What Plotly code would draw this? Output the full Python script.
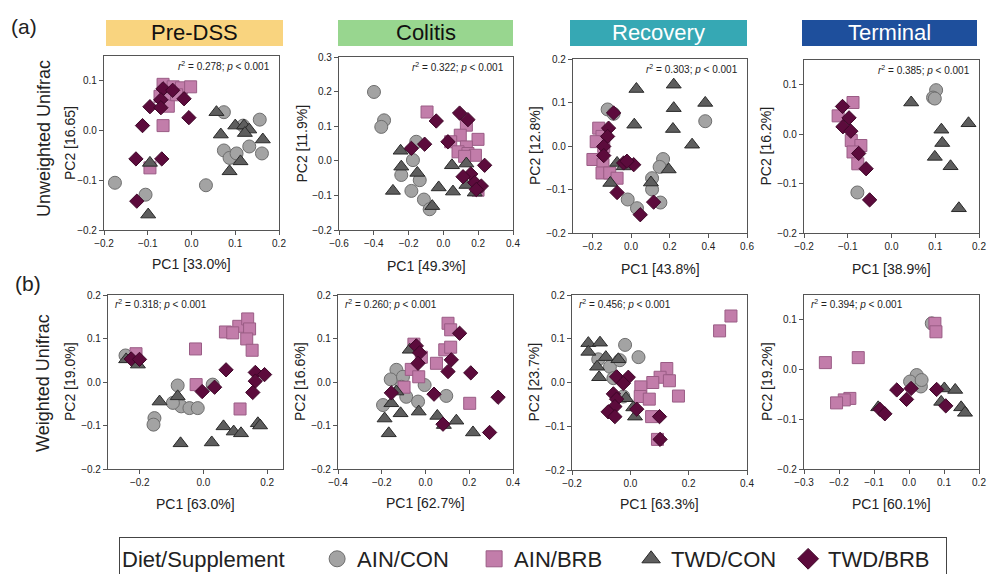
import plotly.graph_objects as go

W, H = 995, 574

# ---------------- data (PC1, PC2) per panel and group ----------------
# Row (a): Unweighted Unifrac
UW_PRE_AINCON = [(-0.175, -0.105), (-0.105, -0.129), (0.033, -0.11), (0.074, 0.037), (0.156, 0.022),
                 (0.074, -0.04), (0.087, -0.055), (0.103, -0.046), (0.132, -0.032), (0.161, -0.046), (0.118, 0.01)]
UW_PRE_AINBRB = [(-0.065, 0.093), (-0.042, 0.088), (-0.023, 0.086), (-0.002, 0.088), (-0.072, 0.069),
                 (-0.057, 0.062), (-0.053, 0.049), (-0.065, 0.01), (-0.095, -0.075), (-0.034, 0.072)]
UW_PRE_TWDCON = [(-0.095, -0.065), (-0.099, -0.169), (0.057, 0.037), (0.067, -0.008), (0.1, 0.01),
                 (0.12, 0.01), (0.132, 0.002), (0.122, -0.005), (0.163, -0.018), (0.112, -0.062), (0.087, -0.082)]
UW_PRE_TWDBRB = [(-0.065, 0.084), (-0.043, 0.081), (-0.07, 0.062), (-0.095, 0.048), (-0.07, 0.046),
                 (-0.017, 0.064), (-0.006, 0.026), (-0.112, 0.01), (-0.127, -0.057), (-0.068, -0.057), (-0.125, -0.142)]

UW_COL_AINCON = [(-0.399, 0.199), (-0.341, 0.117), (-0.357, 0.098), (-0.156, 0.055), (-0.175, 0.002),
                 (-0.242, -0.041), (-0.136, -0.056), (-0.184, -0.087), (-0.112, -0.112), (-0.079, -0.14)]
UW_COL_AINBRB = [(-0.094, 0.141), (0.132, 0.103), (0.097, 0.074), (0.042, 0.055), (0.199, 0.062),
                 (0.132, 0.04), (0.084, 0.026), (0.141, 0.021), (0.184, 0.016), (0.122, 0.013), (0.199, -0.085)]
UW_COL_TWDCON = [(-0.246, 0.029), (-0.242, -0.017), (-0.15, -0.035), (-0.29, -0.087), (-0.027, -0.077),
                 (0.055, -0.089), (-0.064, -0.131), (0.049, -0.013), (0.132, -0.008), (0.132, -0.07), (0.18, -0.092)]
UW_COL_TWDBRB = [(0.093, 0.138), (0.141, 0.119), (-0.041, 0.115), (-0.184, 0.036), (-0.108, 0.048),
                 (0.026, 0.055), (0.237, -0.013), (0.157, -0.038), (0.113, -0.046), (0.18, -0.063),
                 (0.218, -0.073), (0.189, -0.083)]

UW_REC_AINCON = [(-0.121, 0.084), (-0.09, 0.074), (0.384, 0.057), (0.166, -0.03), (0.148, -0.048),
                 (0.109, -0.074), (0.109, -0.1), (0.152, -0.13), (-0.017, -0.123), (0.031, -0.143)]
UW_REC_AINBRB = [(-0.167, 0.041), (-0.15, 0.022), (-0.141, -0.001), (-0.197, -0.031), (-0.145, -0.043),
                 (-0.15, -0.062), (-0.11, -0.062), (-0.072, -0.074), (-0.18, 0.01)]
UW_REC_TWDCON = [(0.028, 0.131), (0.221, 0.141), (0.384, 0.099), (0.221, 0.087), (0.017, 0.049),
                 (0.217, 0.039), (0.316, 0.003), (0.195, -0.054), (0.103, -0.084), (-0.072, -0.039),
                 (-0.038, -0.047), (-0.107, -0.085)]
UW_REC_TWDBRB = [(-0.09, 0.076), (-0.116, 0.041), (-0.121, 0.022), (-0.141, -0.001), (-0.141, -0.022),
                 (-0.038, -0.039), (0.014, -0.043), (-0.072, -0.107), (0.117, -0.129), (0.048, -0.158),
                 (-0.021, -0.035)]

UW_TER_AINCON = [(0.102, 0.089), (0.095, 0.074), (0.099, 0.072), (-0.078, -0.118)]
UW_TER_AINBRB = [(-0.088, 0.064), (-0.122, 0.037), (-0.092, -0.013), (-0.07, -0.023), (-0.088, -0.036),
                 (-0.077, -0.06)]
UW_TER_TWDCON = [(0.045, 0.064), (0.176, 0.022), (0.114, 0.009), (0.116, -0.018), (0.099, -0.046),
                 (0.135, -0.065), (0.154, -0.15)]
UW_TER_TWDBRB = [(-0.112, 0.056), (-0.097, 0.033), (-0.111, 0.015), (-0.093, 0.006), (-0.075, -0.039),
                 (-0.058, -0.07), (-0.05, -0.133)]

# Row (b): Weighted Unifrac
W_PRE_AINCON = [(-0.245, 0.061), (-0.154, -0.083), (-0.157, -0.098), (-0.081, -0.008), (-0.07, -0.056),
                (-0.044, -0.06), (-0.018, -0.06), (-0.096, -0.048), (0.029, -0.006)]
W_PRE_AINBRB = [(-0.212, 0.065), (-0.025, 0.076), (0.069, 0.115), (0.111, 0.128), (0.139, 0.145),
                (0.145, 0.122), (0.136, 0.099), (0.153, 0.073), (-0.023, -0.006), (0.115, -0.062), (0.092, 0.113)]
W_PRE_TWDCON = [(-0.243, 0.052), (-0.206, 0.04), (-0.138, -0.045), (-0.081, -0.033), (-0.072, -0.141),
                (0.026, -0.139), (0.063, -0.102), (0.095, -0.114), (0.118, -0.118), (0.171, -0.095), (0.178, -0.1)]
W_PRE_TWDBRB = [(-0.227, 0.053), (-0.201, 0.052), (0.071, 0.028), (0.163, 0.022), (0.192, 0.017),
                (0.163, 0.002), (0.155, -0.024), (-0.004, -0.022), (0.035, -0.012)]

W_COL_AINCON = [(-0.133, 0.028), (-0.159, 0.006), (-0.103, 0.012), (-0.11, -0.011), (-0.088, -0.034),
                (-0.194, -0.053), (-0.034, -0.045), (-0.004, -0.007), (0.095, -0.032)]
W_COL_AINBRB = [(-0.053, 0.087), (0.103, 0.135), (0.115, 0.12), (0.088, 0.074), (0.115, 0.08),
                (0.05, 0.043), (-0.019, 0.057), (-0.065, 0.029), (-0.031, 0.012), (-0.098, -0.012), (0.202, -0.049)]
W_COL_TWDCON = [(-0.072, 0.074), (-0.133, -0.022), (-0.156, -0.049), (-0.114, -0.072), (-0.187, -0.084),
                (-0.168, -0.118), (-0.031, -0.068), (0.054, -0.078), (0.084, -0.099), (0.141, -0.089), (0.217, -0.116)]
W_COL_TWDBRB = [(-0.042, 0.083), (-0.027, 0.067), (-0.034, 0.043), (0.156, 0.112), (0.118, 0.051),
                (0.103, 0.024), (0.207, 0.021), (0.039, -0.028), (0.332, -0.035), (-0.156, -0.025),
                (0.08, -0.097), (0.293, -0.116)]

W_REC_AINCON = [(-0.018, 0.086), (0.028, 0.058), (-0.11, 0.053), (-0.07, 0.036), (-0.036, 0.051),
                (-0.058, 0.01), (-0.024, -0.032)]
W_REC_AINBRB = [(0.306, 0.118), (0.345, 0.152), (0.125, 0.032), (0.102, 0.012), (0.134, 0.004),
                (0.077, 0.0), (0.036, -0.01), (0.034, -0.032), (0.065, -0.038), (0.165, -0.031),
                (0.073, -0.078), (0.093, -0.13)]
W_REC_TWDCON = [(-0.144, 0.09), (-0.104, 0.091), (-0.144, 0.07), (-0.084, 0.058), (-0.041, 0.053),
                (-0.114, 0.036), (-0.107, 0.012), (0.01, -0.057), (0.016, -0.078), (-0.015, -0.036)]
W_REC_TWDBRB = [(-0.047, 0.013), (-0.007, 0.012), (-0.024, -0.002), (-0.058, -0.026), (-0.047, -0.038),
                (-0.053, -0.055), (-0.076, -0.067), (-0.053, -0.078), (0.022, -0.061), (0.1, -0.078), (0.102, -0.13)]

W_TER_AINCON = [(0.065, 0.093), (0.022, -0.011), (0.003, -0.024), (0.034, -0.034), (0.036, -0.021)]
W_TER_AINBRB = [(0.074, 0.093), (0.077, 0.076), (-0.239, 0.014), (-0.145, 0.024), (-0.169, -0.058),
                (-0.185, -0.061), (-0.207, -0.067)]
W_TER_TWDCON = [(0.101, -0.038), (0.132, -0.041), (0.092, -0.065), (0.149, -0.076), (0.16, -0.087),
                (-0.088, -0.076)]
W_TER_TWDBRB = [(-0.035, -0.041), (0.006, -0.038), (-0.007, -0.06), (0.079, -0.04), (0.105, -0.073),
                (-0.083, -0.08), (-0.069, -0.089)]

GROUPS = ["AIN/CON", "AIN/BRB", "TWD/CON", "TWD/BRB"]
PANEL_DATA = [
    [UW_PRE_AINCON, UW_PRE_AINBRB, UW_PRE_TWDCON, UW_PRE_TWDBRB],
    [UW_COL_AINCON, UW_COL_AINBRB, UW_COL_TWDCON, UW_COL_TWDBRB],
    [UW_REC_AINCON, UW_REC_AINBRB, UW_REC_TWDCON, UW_REC_TWDBRB],
    [UW_TER_AINCON, UW_TER_AINBRB, UW_TER_TWDCON, UW_TER_TWDBRB],
    [W_PRE_AINCON, W_PRE_AINBRB, W_PRE_TWDCON, W_PRE_TWDBRB],
    [W_COL_AINCON, W_COL_AINBRB, W_COL_TWDCON, W_COL_TWDBRB],
    [W_REC_AINCON, W_REC_AINBRB, W_REC_TWDCON, W_REC_TWDBRB],
    [W_TER_AINCON, W_TER_AINBRB, W_TER_TWDCON, W_TER_TWDBRB],
]
PC1_LABELS = ["PC1 [33.0%]", "PC1 [49.3%]", "PC1 [43.8%]", "PC1 [38.9%]",
              "PC1 [63.0%]", "PC1 [62.7%]", "PC1 [63.3%]", "PC1 [60.1%]"]
PC2_LABELS = ["PC2 [16.65]", "PC2 [11.9%]", "PC2 [12.8%]", "PC2 [16.2%]",
              "PC2 [19.0%]", "PC2 [16.6%]", "PC2 [23.7%]", "PC2 [19.2%]"]
R2_VALUES = ["0.278", "0.322", "0.303", "0.385", "0.318", "0.260", "0.456", "0.394"]
STAGES = ["Pre-DSS", "Colitis", "Recovery", "Terminal"]
ROW_LABELS = ["Unweighted Unifrac", "Weighted Unifrac"]

X_RANGES = [(-0.2, 0.2), (-0.6, 0.4), (-0.3, 0.6), (-0.2, 0.2),
            (-0.3, 0.25), (-0.4, 0.4), (-0.2, 0.4), (-0.3, 0.2)]
X_DTICK = [0.1, 0.2, 0.2, 0.1, 0.2, 0.2, 0.2, 0.1]
Y_RANGES = [(-0.2, 0.15), (-0.2, 0.3), (-0.2, 0.2), (-0.2, 0.15),
            (-0.2, 0.2), (-0.2, 0.2), (-0.2, 0.2), (-0.2, 0.15)]

# ---------------- styling ----------------
FONT = "Liberation Sans, Arial, Helvetica, sans-serif"
STYLE = {
    "AIN/CON": dict(symbol="circle", size=13, color="#A3A3A3", line=dict(color="#6E6E6E", width=1)),
    "AIN/BRB": dict(symbol="square", size=12, color="#C27DAA", line=dict(color="#9A5C85", width=1)),
    "TWD/CON": dict(symbol="triangle-up", size=13, color="#5E5E5E", line=dict(color="#2A2A2A", width=1)),
    "TWD/BRB": dict(symbol="diamond", size=11, color="#5C0B3C", line=dict(color="#3E0628", width=1)),
}
HEADER_COLORS = ["#F9D47F", "#98D68F", "#36A8B4", "#1E4F9C"]
HEADER_TEXT = ["#111111", "#111111", "#FFFFFF", "#FFFFFF"]

# panel boxes in pixels (left, right, top, bottom)
BOXES = [(104, 279, 56, 230), (339, 513, 57, 230), (573, 747, 59, 233), (804, 979, 60, 233),
         (108, 283, 295, 469), (338, 513, 295, 469), (572, 747, 295, 470), (804, 979, 295, 469)]
YTITLE_X = [70, 301, 535, 765, 70, 300, 533, 767]
XTITLE_Y = [264, 266, 269, 269, 504, 503, 504, 504]
HEADERS = [(106, 283), (338, 513), (570, 747), (802, 977)]

fig = go.Figure()
layout = dict(width=W, height=H, margin=dict(l=0, r=0, t=0, b=0, autoexpand=False),
              paper_bgcolor="white", plot_bgcolor="white",
              font=dict(family=FONT, color="#222"))
annotations = []
shapes = []


def label(text, x, y, size, angle=0, color="#222", xanchor="center", yanchor="middle"):
    return dict(text=text, xref="paper", yref="paper", x=x / W, y=1 - y / H, showarrow=False,
                textangle=angle, xanchor=xanchor, yanchor=yanchor, font=dict(size=size, color=color))


for i in range(8):
    k = "" if i == 0 else str(i + 1)
    L, R, T, B = BOXES[i]
    axis_common = dict(showline=True, mirror=True, linecolor="#555", linewidth=1.2,
                       ticks="outside", ticklen=4, tickcolor="#555", tickwidth=1.2,
                       showgrid=False, zeroline=False, tickfont=dict(size=10, color="#222"),
                       tickformat=".1f", automargin=False)
    layout["xaxis" + k] = dict(axis_common, domain=[L / W, R / W], range=list(X_RANGES[i]),
                               tick0=0, dtick=X_DTICK[i], anchor="y" + k)
    layout["yaxis" + k] = dict(axis_common, domain=[1 - B / H, 1 - T / H], range=list(Y_RANGES[i]),
                               tick0=0, dtick=0.1, anchor="x" + k)
    for g, name in enumerate(GROUPS):
        pts = PANEL_DATA[i][g]
        st = STYLE[name]
        fig.add_trace(go.Scatter(
            x=[p[0] for p in pts], y=[p[1] for p in pts], mode="markers", name=name,
            xaxis="x" + k, yaxis="y" + k, showlegend=False, cliponaxis=False,
            marker=dict(symbol=st["symbol"], size=st["size"], color=st["color"], line=st["line"])))
    # axis titles
    annotations.append(label(PC1_LABELS[i], (L + R) / 2, XTITLE_Y[i], 14))
    annotations.append(label(PC2_LABELS[i], YTITLE_X[i], (T + B) / 2, 14, angle=-90))
    # r2 annotation
    txt = "<i>r</i><sup>2</sup> = " + R2_VALUES[i] + "; <i>p</i> &lt; 0.001"
    if i < 4:
        annotations.append(label(txt, R - 7, T + 2, 10, xanchor="right", yanchor="top"))
    else:
        annotations.append(label(txt, L + 5, T + 1, 10, xanchor="left", yanchor="top"))

# stage headers
for j, stage in enumerate(STAGES):
    x0, x1 = HEADERS[j]
    shapes.append(dict(type="rect", xref="paper", yref="paper", x0=x0 / W, x1=x1 / W,
                       y0=1 - 46 / H, y1=1 - 20 / H, fillcolor=HEADER_COLORS[j], line=dict(width=0),
                       layer="below"))
    annotations.append(label(stage, (x0 + x1) / 2, 33, 22, color=HEADER_TEXT[j]))

# row labels
annotations.append(label("(a)", 24, 27, 21))
annotations.append(label("(b)", 28, 284, 21))
annotations.append(label(ROW_LABELS[0], 44, 139, 18, angle=-90))
annotations.append(label(ROW_LABELS[1], 43, 383, 18, angle=-90))

# legend entries (no data; legend only)
for name in GROUPS:
    st = STYLE[name]
    fig.add_trace(go.Scatter(x=[None], y=[None], mode="markers", name=name, showlegend=True,
                             marker=dict(symbol=st["symbol"], size=20, color=st["color"], line=st["line"])))

layout["legend"] = dict(orientation="h", x=119 / W, y=1 - 537 / H, xanchor="left", yanchor="top",
                        bordercolor="#444", borderwidth=1, bgcolor="white",
                        font=dict(size=22, color="#222"),
                        title=dict(text="Diet/Supplement    ", side="left", font=dict(size=22, color="#222")),
                        itemwidth=30, entrywidth=112)
layout["showlegend"] = True
layout["annotations"] = annotations
layout["shapes"] = shapes
fig.update_layout(layout)
fig.write_html("out.html", config={"displayModeBar": False},
               post_script="document.body.style.margin='0';")
